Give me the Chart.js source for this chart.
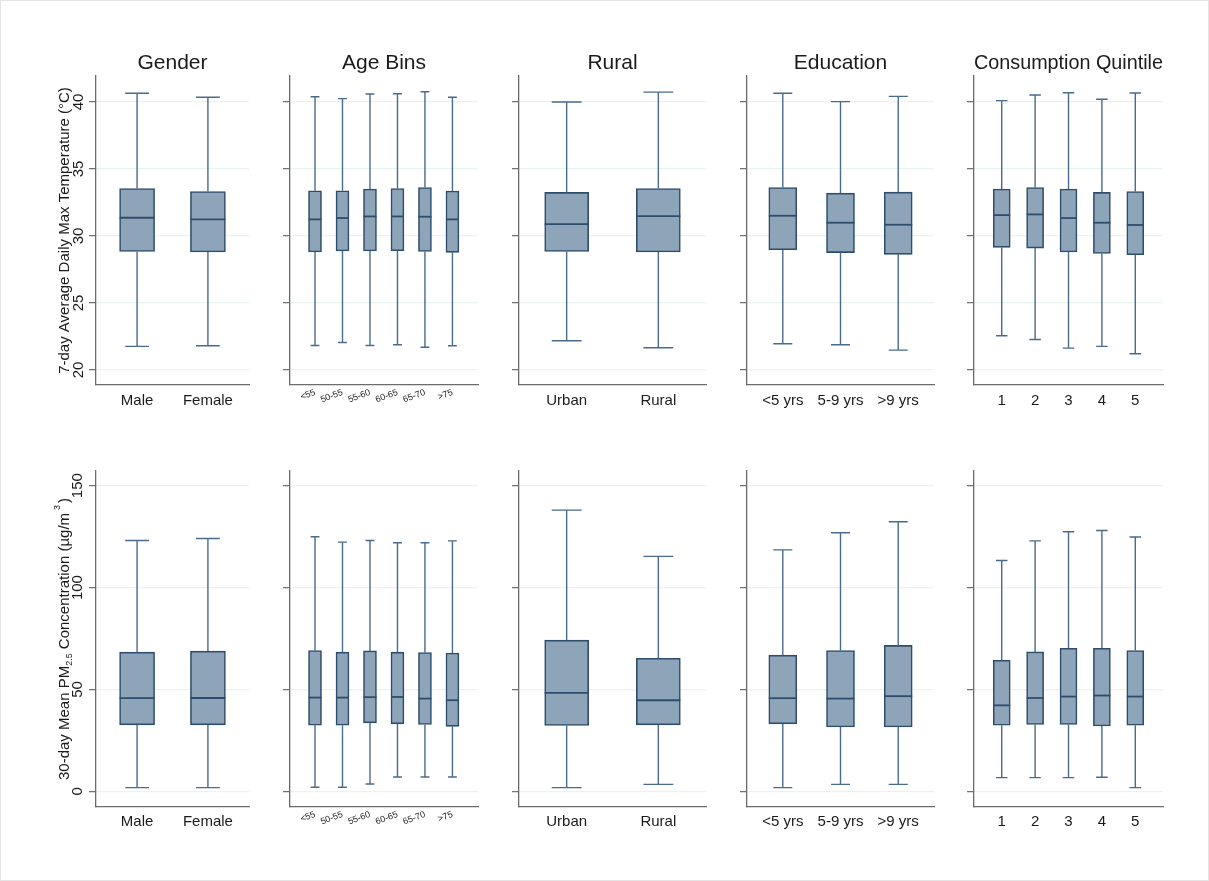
<!DOCTYPE html>
<html>
<head>
<meta charset="utf-8">
<title>Temperature and PM2.5 exposure by group</title>
<script src="https://cdn.jsdelivr.net/npm/chart.js@4.4.1/dist/chart.umd.min.js"></script>
<style>
  html, body { margin: 0; padding: 0; background: #ffffff; }
  #page { position: relative; width: 1209px; height: 881px; overflow: hidden; background: #ffffff;
          box-sizing: border-box; border: 1px solid #e4e4e4; }
  .panel { position: absolute; }
  .panel canvas { display: block; }
</style>
</head>
<body>
<div id="page"></div>
<script>
// ---- categories -------------------------------------------------------
const genderLabels = ['Male', 'Female'];
const ageLabels = ['<55', '50-55', '55-60', '60-65', '65-70', '>75'];
const ruralLabels = ['Urban', 'Rural'];
const educationLabels = ['<5 yrs', '5-9 yrs', '>9 yrs'];
const quintileLabels = ['1', '2', '3', '4', '5'];

const panelTitles = ['Gender', 'Age Bins', 'Rural', 'Education', 'Consumption Quintile'];

// ---- five-number summaries: [lower whisker, Q1, median, Q3, upper whisker]
// 7-day average daily max temperature (°C)
const genderTemp = [[21.76, 28.85, 31.36, 33.54, 40.65], [21.81, 28.81, 31.24, 33.32, 40.35]];
const ageTemp = [
  [21.83, 28.81, 31.24, 33.37, 40.39], [22.05, 28.88, 31.34, 33.37, 40.25],
  [21.83, 28.88, 31.46, 33.50, 40.60], [21.88, 28.90, 31.46, 33.54, 40.62],
  [21.70, 28.85, 31.44, 33.62, 40.77], [21.81, 28.78, 31.24, 33.35, 40.35]
];
const ruralTemp = [[22.18, 28.85, 30.89, 33.25, 40.00], [21.66, 28.81, 31.49, 33.54, 40.74]];
const educationTemp = [
  [21.96, 28.98, 31.51, 33.62, 40.65], [21.88, 28.76, 30.99, 33.20, 40.03],
  [21.48, 28.63, 30.84, 33.27, 40.42]
];
const quintileTemp = [
  [22.55, 29.15, 31.56, 33.50, 40.10], [22.28, 29.10, 31.61, 33.62, 40.52],
  [21.63, 28.81, 31.34, 33.50, 40.69], [21.76, 28.70, 30.99, 33.25, 40.20],
  [21.21, 28.60, 30.82, 33.32, 40.67]
];

// 30-day mean PM2.5 concentration (µg/m³)
const genderPm = [[1.8, 32.6, 45.7, 68.3, 123.1], [1.8, 32.6, 45.8, 68.8, 124.1]];
const agePm = [
  [2.0, 32.4, 46.0, 69.1, 124.9], [2.0, 32.4, 46.0, 68.3, 122.3],
  [3.6, 33.6, 46.2, 68.9, 123.1], [7.0, 33.1, 46.3, 68.3, 122.0],
  [7.0, 32.8, 45.5, 68.1, 122.0], [7.0, 31.9, 44.7, 67.9, 122.9]
];
const ruralPm = [[1.8, 32.3, 48.3, 74.2, 138.0], [3.4, 32.6, 44.7, 65.3, 115.3]];
const educationPm = [
  [1.8, 33.1, 45.7, 66.8, 118.5], [3.4, 31.6, 45.5, 69.1, 126.9],
  [3.4, 31.6, 46.7, 71.6, 132.3]
];
const quintilePm = [
  [6.7, 32.4, 42.2, 64.3, 113.3], [6.7, 32.8, 45.8, 68.4, 122.9],
  [6.7, 32.8, 46.5, 70.2, 127.4], [6.9, 32.1, 47.0, 70.2, 128.0],
  [1.8, 32.4, 46.5, 69.1, 124.8]
];

// ---- tick labels --------------------------------------------------------
const tempTicks = [20, 25, 30, 35, 40];
const pmTicks = [0, 50, 100, 150];

// ---- styling ------------------------------------------------------------
const FONT = "'Liberation Sans', Arial, Helvetica, sans-serif";
const BOX_FILL = '#8ea4b8';
const BOX_EDGE = '#2e4d6c';
const WHISKER = '#4a6b8c';
const GRID = 'rgb(234,242,243)';
const AXIS = '#6b6b6b';
const TEXT = '#1b1b1b';

Chart.defaults.font.family = FONT;

const panelCategories = [genderLabels, ageLabels, ruralLabels, educationLabels, quintileLabels];
const tempStats = [genderTemp, ageTemp, ruralTemp, educationTemp, quintileTemp];
const pmStats = [genderPm, agePm, ruralPm, educationPm, quintilePm];

// plot-area geometry of the five columns and the two rows (page pixels)
const COLS = [
  { left: 95,  right: 248,  xMin: 0.42, xMax: 2.58, box: 35, labelSize: 15, rot: 0 },
  { left: 289, right: 477,  xMin: 0.09, xMax: 6.93, box: 13, labelSize: 9,  rot: 21 },
  { left: 518, right: 705,  xMin: 0.48, xMax: 2.52, box: 44, labelSize: 15, rot: 0 },
  { left: 746, right: 933,  xMin: 0.38, xMax: 3.62, box: 28, labelSize: 15, rot: 0 },
  { left: 973, right: 1162, xMin: 0.17, xMax: 5.83, box: 17, labelSize: 15, rot: 0 }
];
const ROWS = [
  { top: 75, bottom: 384, yMin: 18.88, yMax: 41.94, ticks: tempTicks, stats: tempStats,
    tickPad: 2.2, labelPad: 7,
    yTitle: [{ text: '7-day Average Daily Max Temperature (°C)', size: 15 }] },
  { top: 470, bottom: 806, yMin: -7.7, yMax: 157.2, ticks: pmTicks, stats: pmStats,
    tickPad: -1.8, labelPad: 6,
    yTitle: [
      { text: '30-day Mean PM', size: 15 },
      { text: '2.5', size: 9, dy: 3 },
      { text: ' Concentration (µg/m', size: 15 },
      { text: '3', size: 9, dy: -9, gapBefore: 3, gapAfter: 2 },
      { text: ')', size: 15 }
    ] }
];

// whiskers, caps and median line, placed on each floating box bar
const boxWhiskers = {
  id: 'boxWhiskers',
  afterDatasetsDraw(chart) {
    const { ctx, scales: { y } } = chart;
    const meta = chart.getDatasetMeta(0);
    const stats = chart.data.datasets[0].stats;
    ctx.save();
    meta.data.forEach((bar, i) => {
      const s = stats[i];
      const px = bar.x;
      const half = bar.width / 2;
      const cap = half * 0.68;
      const lo = y.getPixelForValue(s[0]);
      const q1 = y.getPixelForValue(s[1]);
      const md = y.getPixelForValue(s[2]);
      const q3 = y.getPixelForValue(s[3]);
      const hi = y.getPixelForValue(s[4]);
      ctx.strokeStyle = WHISKER;
      ctx.lineWidth = 1.4;
      ctx.beginPath();
      ctx.moveTo(px, q3); ctx.lineTo(px, hi);
      ctx.moveTo(px, q1); ctx.lineTo(px, lo);
      ctx.moveTo(px - cap, hi); ctx.lineTo(px + cap, hi);
      ctx.moveTo(px - cap, lo); ctx.lineTo(px + cap, lo);
      ctx.stroke();
      ctx.strokeStyle = BOX_EDGE;
      ctx.lineWidth = 1.8;
      ctx.beginPath();
      ctx.moveTo(px - half, md); ctx.lineTo(px + half, md);
      ctx.stroke();
    });
    ctx.restore();
  }
};

// vertical axis title made of runs of text (allows sub/superscripts)
const sideTitle = {
  id: 'sideTitle',
  afterDraw(chart, args, opts) {
    if (!opts || !opts.parts) return;
    const { ctx, chartArea } = chart;
    const parts = opts.parts;
    ctx.save();
    ctx.translate(opts.x, (chartArea.top + chartArea.bottom) / 2);
    ctx.rotate(-Math.PI / 2);
    ctx.fillStyle = TEXT;
    ctx.textBaseline = 'alphabetic';
    ctx.textAlign = 'left';
    let total = 0;
    const widths = parts.map(p => {
      ctx.font = p.size + 'px ' + FONT;
      const w = ctx.measureText(p.text).width + (p.gapBefore || 0) + (p.gapAfter || 0);
      total += w;
      return w;
    });
    let cx = -total / 2;
    parts.forEach((p, i) => {
      ctx.font = p.size + 'px ' + FONT;
      ctx.fillText(p.text, cx + (p.gapBefore || 0), 5.4 + (p.dy || 0));
      cx += widths[i];
    });
    ctx.restore();
  }
};

const page = document.getElementById('page');

function makePanel(rowIdx, colIdx) {
  const r = ROWS[rowIdx];
  const c = COLS[colIdx];
  const labels = panelCategories[colIdx];
  const stats = r.stats[colIdx];
  const yW = colIdx === 0 ? 95 : 14;
  const topW = rowIdx === 0 ? 32 : 20;
  const xH = 36;
  const padR = 6;
  const left = c.left - yW;
  const top = r.top - topW;
  const w = yW + (c.right - c.left) + padR;
  const h = topW + (r.bottom - r.top) + xH;

  const div = document.createElement('div');
  div.className = 'panel';
  div.style.left = left + 'px';
  div.style.top = top + 'px';
  div.style.width = w + 'px';
  div.style.height = h + 'px';
  const cv = document.createElement('canvas');
  cv.width = w;
  cv.height = h;
  div.appendChild(cv);
  page.appendChild(div);

  new Chart(cv, {
    type: 'bar',
    data: {
      datasets: [{
        data: stats.map((s, i) => ({ x: i + 1, y: [s[1], s[3]] })),
        stats: stats,
        backgroundColor: BOX_FILL,
        borderColor: BOX_EDGE,
        borderWidth: 1.6,
        borderSkipped: false,
        barThickness: c.box
      }]
    },
    options: {
      responsive: false,
      animation: false,
      events: [],
      layout: { padding: { left: 0, right: padR, top: rowIdx === 0 ? 0 : topW, bottom: 0 } },
      plugins: {
        legend: { display: false },
        tooltip: { enabled: false },
        title: {
          display: rowIdx === 0,
          text: panelTitles[colIdx],
          fullSize: false,
          color: TEXT,
          font: { size: 21, weight: 'normal', family: FONT },
          padding: { top: 6.4, bottom: 0.4 }
        },
        sideTitle: colIdx === 0 ? { parts: r.yTitle, x: 63 } : {}
      },
      scales: {
        x: {
          type: 'linear',
          min: c.xMin,
          max: c.xMax,
          offset: false,
          afterBuildTicks: s => { s.ticks = labels.map((_, i) => ({ value: i + 1 })); },
          afterFit: s => { s.height = xH; },
          ticks: {
            autoSkip: false,
            minRotation: c.rot,
            maxRotation: c.rot,
            padding: c.rot ? 2 : r.labelPad,
            color: TEXT,
            font: { size: c.labelSize },
            callback: (v, i) => labels[i]
          },
          grid: { display: true, drawOnChartArea: false, drawTicks: false },
          border: { display: true, color: AXIS, width: 1.3 }
        },
        y: {
          type: 'linear',
          min: r.yMin,
          max: r.yMax,
          afterBuildTicks: s => { s.ticks = r.ticks.map(v => ({ value: v })); },
          afterFit: s => { s.width = yW; },
          ticks: {
            display: colIdx === 0,
            minRotation: 90,
            maxRotation: 90,
            crossAlign: 'center',
            padding: r.tickPad,
            color: TEXT,
            font: { size: 15 }
          },
          grid: { color: GRID, lineWidth: 1.3, drawTicks: true, tickLength: 7, tickColor: AXIS, tickWidth: 1.2 },
          border: { display: true, color: AXIS, width: 1.3 }
        }
      }
    },
    plugins: [boxWhiskers, sideTitle]
  });
}

for (let ri = 0; ri < ROWS.length; ri++) {
  for (let ci = 0; ci < COLS.length; ci++) {
    makePanel(ri, ci);
  }
}
</script>
</body>
</html>
